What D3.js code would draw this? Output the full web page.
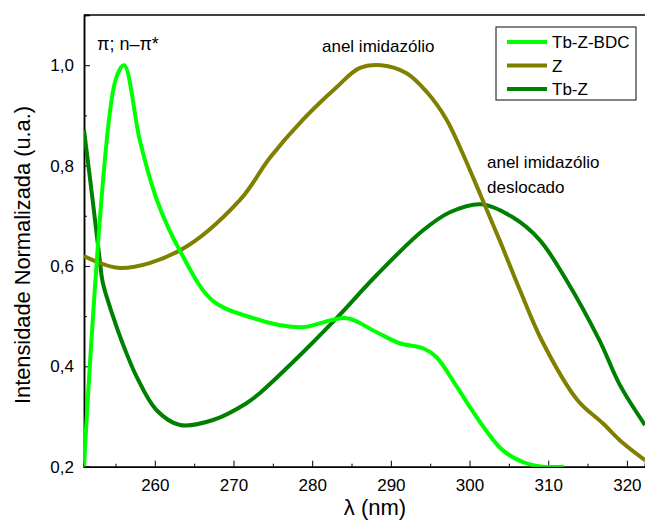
<!DOCTYPE html>
<html lang="pt">
<head>
<meta charset="utf-8">
<title>Absorção normalizada</title>
<script src="https://d3js.org/d3.v7.min.js"></script>
<style>
  body { margin: 0; background: #fff; }
  text { font-family: Arial, "Liberation Sans", sans-serif; fill: #000; }
</style>
</head>
<body>
<script>
// wavelengths (nm) and normalized intensities
const lambdaBDC = [251, 255, 256.1, 258.1, 260.3, 263.2, 267.4, 272.5, 275.9, 278.8, 284.4, 287.7, 291.1, 294.1, 295.8, 298.4, 300.2, 302.2, 304.2, 306.8, 309.3, 312];
const tbZBDC    = [0.20, 0.97, 1.00, 0.85, 0.73, 0.63, 0.53, 0.496, 0.482, 0.478, 0.496, 0.472, 0.446, 0.436, 0.418, 0.359, 0.315, 0.270, 0.233, 0.209, 0.20, 0.20];

const lambdaZ = [251, 255.6, 263.2, 270.8, 274.6, 278.8, 283.1, 286.0, 288.8, 292.0, 294.6, 297.1, 299.1, 301.3, 303.8, 306.4, 309.2, 313.7, 316.9, 319.5, 322.3];
const z       = [0.62, 0.596, 0.631, 0.731, 0.815, 0.891, 0.956, 0.994, 1.00, 0.984, 0.946, 0.891, 0.825, 0.745, 0.652, 0.552, 0.451, 0.333, 0.287, 0.247, 0.213];

const lambdaTbZ = [251, 252.1, 253, 253.4, 254.7, 255.9, 257.7, 260.2, 263.2, 267.4, 271.6, 273.3, 277.6, 283.1, 288.2, 294.1, 297.5, 301.5, 305.5, 308.9, 312.3, 316.5, 319.1, 322.3];
const tbZ       = [0.871, 0.731, 0.612, 0.566, 0.499, 0.446, 0.379, 0.313, 0.283, 0.293, 0.326, 0.346, 0.409, 0.496, 0.582, 0.671, 0.707, 0.723, 0.697, 0.652, 0.572, 0.452, 0.363, 0.283];

const seriesNames = ["Tb-Z-BDC", "Z", "Tb-Z"];
const colors = ["#00ff00", "#808000", "#008000"];

const xTicks = [260, 270, 280, 290, 300, 310, 320];
const yTicks = [0.2, 0.4, 0.6, 0.8, 1.0];

const width = 645, height = 520;
const plotLeft = 84, plotRight = 645, plotTop = 15, plotBottom = 466.7;

const xScale = d3.scaleLinear().domain([251, 322.3]).range([plotLeft, plotRight]);
const yScale = d3.scaleLinear().domain([0.2, 1.1]).range([plotBottom, plotTop]);

const svg = d3.select("body").append("svg")
    .attr("width", width)
    .attr("height", height);

svg.append("defs").append("clipPath").attr("id", "plot")
  .append("rect")
    .attr("x", plotLeft).attr("y", plotTop)
    .attr("width", plotRight - plotLeft).attr("height", plotBottom - plotTop);

// axes, ticks inward
const fmt = d3.format(".1f");
const bottomAxis = d3.axisBottom(xScale).tickValues(xTicks).tickSize(-6).tickPadding(12);
const leftAxis = d3.axisLeft(yScale).tickValues(yTicks).tickSize(-6).tickPadding(10)
    .tickFormat(d => fmt(d).replace(".", ","));

const gx = svg.append("g").attr("transform", `translate(0,${plotBottom})`).call(bottomAxis);
const gy = svg.append("g").attr("transform", `translate(${plotLeft},0)`).call(leftAxis);

// minor ticks
const gxm = svg.append("g").attr("transform", `translate(0,${plotBottom})`)
    .call(d3.axisBottom(xScale).tickValues(d3.range(255, 322, 10)).tickSize(-3).tickFormat(""));
const gym = svg.append("g").attr("transform", `translate(${plotLeft},0)`)
    .call(d3.axisLeft(yScale).tickValues([0.3, 0.5, 0.7, 0.9]).tickSize(-3).tickFormat(""));

[gx, gy, gxm, gym].forEach(g => {
  g.select(".domain").attr("stroke", "#000").attr("stroke-width", 1.5);
  g.selectAll(".tick line").attr("stroke", "#000").attr("stroke-width", 1);
  g.selectAll(".tick text").attr("font-size", 17).attr("font-family", "Arial, 'Liberation Sans', sans-serif");
});

// top frame line
svg.append("line")
    .attr("x1", plotLeft).attr("x2", plotRight).attr("y1", plotTop).attr("y2", plotTop)
    .attr("stroke", "#000").attr("stroke-width", 1.5);

// curves
const line = d3.line()
    .x(d => xScale(d[0]))
    .y(d => yScale(d[1]))
    .curve(d3.curveCatmullRom.alpha(0.5));

const data = [
  d3.zip(lambdaBDC, tbZBDC),
  d3.zip(lambdaZ, z),
  d3.zip(lambdaTbZ, tbZ)
];

svg.append("g").attr("clip-path", "url(#plot)")
  .selectAll("path")
  .data([data[2], data[1], data[0]])
  .join("path")
    .attr("d", line)
    .attr("fill", "none")
    .attr("stroke", (d, i) => colors[2 - i])
    .attr("stroke-width", 4)
    .attr("stroke-linejoin", "round");

// axis labels
svg.append("text")
    .attr("x", 375).attr("y", 515)
    .attr("text-anchor", "middle").attr("font-size", 22)
    .text("λ (nm)");

svg.append("text")
    .attr("transform", `translate(30,255) rotate(-90)`)
    .attr("text-anchor", "middle").attr("font-size", 21.8)
    .text("Intensidade Normalizada (u.a.)");

// annotations
svg.append("text").attr("x", 97).attr("y", 50).attr("font-size", 18).text("π; n–π*");
svg.append("text").attr("x", 322).attr("y", 52).attr("font-size", 17).text("anel imidazólio");
svg.append("text").attr("x", 487).attr("y", 168).attr("font-size", 17).text("anel imidazólio");
svg.append("text").attr("x", 487).attr("y", 193).attr("font-size", 17).text("deslocado");

// legend
const legend = svg.append("g");
legend.append("rect")
    .attr("x", 496).attr("y", 27).attr("width", 140).attr("height", 73)
    .attr("fill", "#fff").attr("stroke", "#333").attr("stroke-width", 1.2);

const rows = legend.selectAll("g.row")
  .data(seriesNames)
  .join("g")
    .attr("class", "row")
    .attr("transform", (d, i) => `translate(0,${42 + i * 23.5})`);

rows.append("line")
    .attr("x1", 507).attr("x2", 547)
    .attr("stroke", (d, i) => colors[i]).attr("stroke-width", 4);

rows.append("text")
    .attr("x", 552).attr("y", 6)
    .attr("font-size", 17)
    .text(d => d);
</script>
</body>
</html>
